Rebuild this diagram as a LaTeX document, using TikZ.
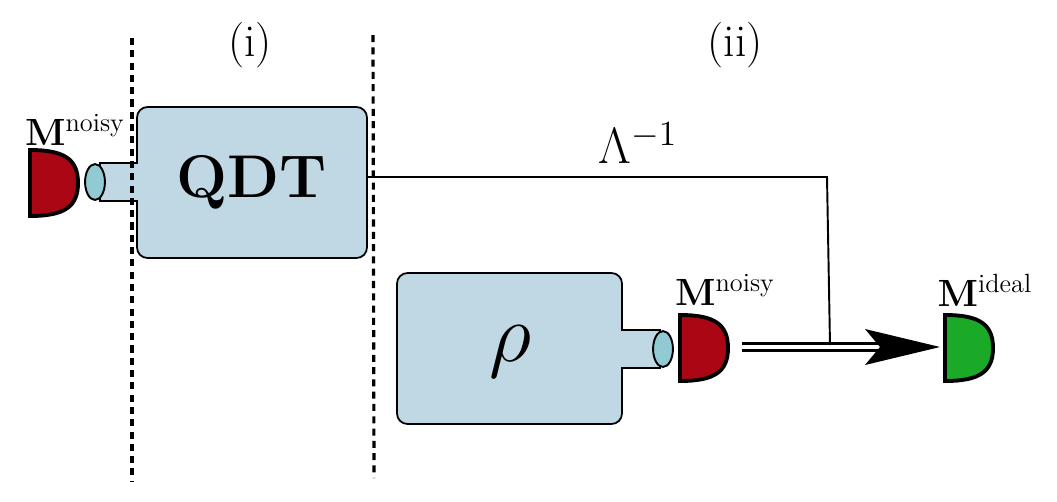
\documentclass[tikz,border=0pt]{standalone}
\usepackage{amsmath}
\usetikzlibrary{arrows.meta, shapes.geometric, calc}
\definecolor{boxblue}{RGB}{192,216,228}
\definecolor{detred}{RGB}{170,6,20}
\definecolor{detgreen}{RGB}{26,170,40}
\definecolor{lensteal}{RGB}{146,202,212}
\newcommand{\detector}[2]{% flat side at #1, fill #2
  \draw[line width=2.2pt, fill=#2] ($(#1)+(0,-33)$) -- ($(#1)+(0,33)$)
    .. controls +(34,0) and +(0,24) .. ($(#1)+(48,0)$)
    .. controls +(0,-24) and +(34,0) .. cycle;}
\begin{document}
\begin{tikzpicture}[x=0.02cm, y=-0.02cm,
    sep/.style={line width=1.8pt, dash pattern=on 4pt off 3pt},
    lens/.style={ellipse, draw, line width=1.1pt, fill=lensteal, inner sep=0pt,
        minimum width=11.3pt, minimum height=20.4pt},
    bx/.style={draw, line width=1pt, fill=boxblue, rounded corners=6pt},
    lbl/.style={scale=1.25}]
    \useasboundingbox (0,0) rectangle (1057,501);

    % separators
    \coordinate (s1a) at (132,38);  \coordinate (s1b) at (132,482);
    \coordinate (s2a) at (373,35);  \coordinate (s2b) at (374,478);
    \node[lbl] (lab1) at (250,45) {\huge (i)};
    \node[lbl] (lab2) at (735,45) {\huge (ii)};

    % QDT box with stem
    \draw[bx] (137,107) rectangle (367,258);
    \fill[boxblue] (100,163) rectangle (139,201);
    \draw[line width=1pt] (138,163) -- (100,163) -- (100,201) -- (138,201);
    \node[scale=1.38] (qdt) at (252,182) {\Huge\bfseries QDT};
    \node[lens] (lensA) at (95,182) {};
    \coordinate (detA) at (30,183);
    \detector{detA}{detred}
    \node[lbl] (mA) at (75,130) {\LARGE $\mathbf{M}^{\text{noisy}}$};

    \draw[sep] (s1a) -- (s1b);
    \draw[sep] (s2a) -- (s2b);

    % rho box with stem
    \draw[bx] (397,273) rectangle (622,424);
    \fill[boxblue] (620,330) rectangle (660,368);
    \draw[line width=1pt] (621,330) -- (660,330) -- (660,368) -- (621,368);
    \node[scale=1.9] (rho) at (510,352) {\Huge $\rho$};
    \node[lens] (lensB) at (663,349) {};
    \coordinate (detB) at (680,348);
    \detector{detB}{detred}
    \node[lbl] (mB) at (725,290) {\LARGE $\mathbf{M}^{\text{noisy}}$};

    \coordinate (detC) at (945,348);
    \detector{detC}{detgreen}
    \node[lbl] (mC) at (985,290) {\LARGE $\mathbf{M}^{\text{ideal}}$};

    % classical output and correction
    \coordinate (outB) at (742,347);
    \coordinate (tipC) at (940,347);
    \coordinate (inC) at (895,347);
    \coordinate (join) at (830,345);
    \coordinate (qdtout) at (367,177);
    \draw[line width=1.6pt, double, double distance=2.2pt] (outB) -- (inC);
    \fill (tipC) -- ++(-75,-18) -- ++(15,18) -- ++(-15,18) -- cycle;
    \draw[line width=1.1pt] (qdtout) -- (827,177) -- (join);
    \node[scale=1.4] (lam) at (638,143) {\huge $\Lambda^{-1}$};
\end{tikzpicture}
\end{document}
